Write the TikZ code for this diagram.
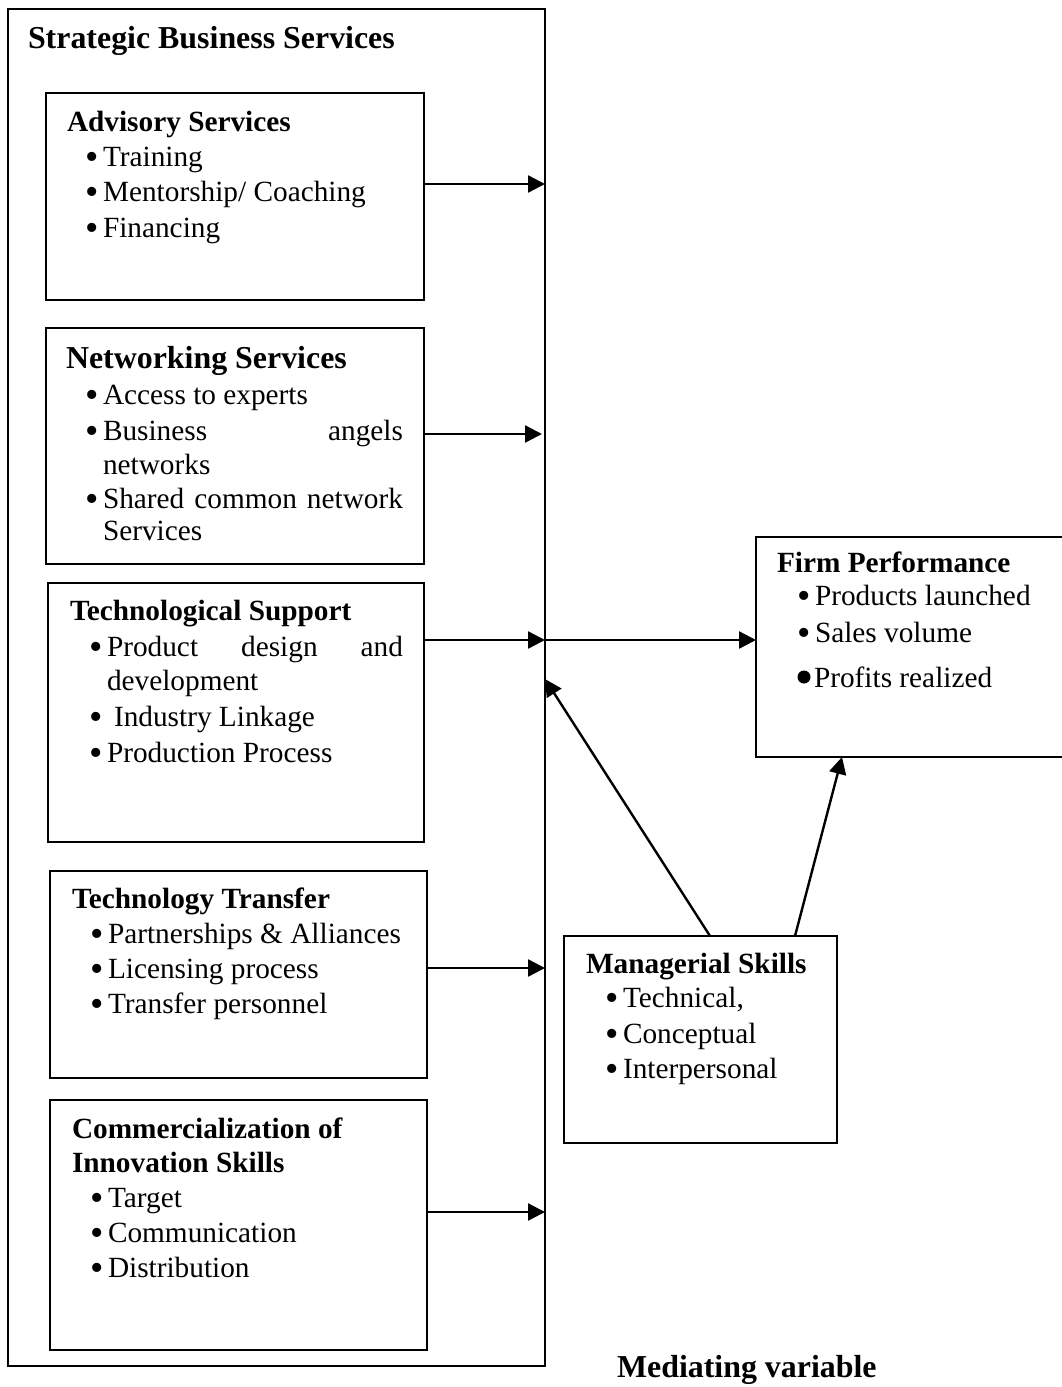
\documentclass[tikz,border=0pt]{standalone}
\usepackage{fontspec}
\setmainfont{Liberation Serif}
\usetikzlibrary{arrows.meta}
\newcommand\bpt{\llap{\smash{\raisebox{-3pt}{\scalebox{1.3}{\textbullet}}}\hspace{4.5pt}}}
\begin{document}
\begin{tikzpicture}[x=1pt,y=-1pt,
  box/.style={draw, line width=2pt, inner sep=0pt, outer sep=0pt, anchor=north west},
  arr/.style={-{Triangle[length=17pt,width=17pt]}, line width=2.4pt},
  txt/.style={anchor=base west, inner sep=0pt, outer sep=0pt, font=\fontsize{29.3}{35}\selectfont},
  hd/.style={txt, font=\fontsize{29.3}{35}\selectfont\bfseries},
  hdl/.style={txt, font=\fontsize{31.9}{38}\selectfont\bfseries}]
\useasboundingbox (0,0) rectangle (1062,1387);
\clip (0,0) rectangle (1062,1387);
% boxes
\node[box, minimum width=537pt, minimum height=1357pt] (outer) at (8,9) {};
\node[box, minimum width=378pt, minimum height=207pt] (adv) at (46,93) {};
\node[box, minimum width=378pt, minimum height=236pt] (net) at (46,328) {};
\node[box, minimum width=376pt, minimum height=259pt] (tech) at (48,583) {};
\node[box, minimum width=377pt, minimum height=207pt] (trans) at (50,871) {};
\node[box, minimum width=377pt, minimum height=250pt] (comm) at (50,1100) {};
\node[box, minimum width=340pt, minimum height=220pt] (firm) at (756,537) {};
\node[box, minimum width=273pt, minimum height=207pt] (mgr) at (564,936) {};
% titles
\node[hdl] (tsbs) at (28,48) {Strategic Business Services};
\node[hdl] (tmed) at (617,1377) {Mediating variable};
% advisory
\node[hd] (tadv) at (67,131) {Advisory Services};
\node[txt] (adv1) at (103,166) {\bpt Training};
\node[txt] (adv2) at (103,201) {\bpt Mentorship/ Coaching};
\node[txt] (adv3) at (103,237) {\bpt Financing};
% networking
\node[hdl] (tnet) at (66,368) {Networking Services};
\node[txt] (net1) at (103,404) {\bpt Access to experts};
\node[txt] (net2) at (103,440) {\bpt\makebox[300pt][s]{Business angels}};
\node[txt] (net3) at (103,474) {networks};
\node[txt] (net4) at (103,508) {\bpt\makebox[300pt][s]{Shared common network}};
\node[txt] (net5) at (103,540) {Services};
% technological support
\node[hd] (ttech) at (70,620) {Technological Support};
\node[txt] (tech1) at (107,656) {\bpt\makebox[296pt][s]{Product design and}};
\node[txt] (tech2) at (107,690) {development};
\node[txt] (tech3) at (107,726) {\bpt\hspace*{7pt}Industry Linkage};
\node[txt] (tech4) at (107,762) {\bpt Production Process};
% technology transfer
\node[hd] (ttrans) at (72,908) {Technology Transfer};
\node[txt] (trans1) at (108,943) {\bpt Partnerships \& Alliances};
\node[txt] (trans2) at (108,978) {\bpt Licensing process};
\node[txt] (trans3) at (108,1013) {\bpt Transfer personnel};
% commercialization
\node[hd] (tcomm1) at (72,1138) {Commercialization of};
\node[hd] (tcomm2) at (72,1172) {Innovation Skills};
\node[txt] (comm1) at (108,1207) {\bpt Target};
\node[txt] (comm2) at (108,1242) {\bpt Communication};
\node[txt] (comm3) at (108,1277) {\bpt Distribution};
% firm performance
\node[hd] (tfirm) at (777,572) {Firm Performance};
\node[txt] (firm1) at (815,605) {\bpt Products launched};
\node[txt] (firm2) at (815,642) {\bpt Sales volume};
\node[txt] (firm3) at (814,687) {Profits realized};
\fill ([shift={(-10,-10)}]firm3.base west) circle (6.5pt);
% managerial skills
\node[hd] (tmgr) at (586,973) {Managerial Skills};
\node[txt] (mgr1) at (623,1007) {\bpt Technical,};
\node[txt] (mgr2) at (623,1043) {\bpt Conceptual};
\node[txt] (mgr3) at (623,1078) {\bpt Interpersonal};
% connectors
\draw[arr] (adv.east |- 0,184) -- (outer.east |- 0,184);
\draw[arr, shorten >=3pt] (net.east |- 0,434) -- (outer.east |- 0,434);
\draw[arr] (tech.east |- 0,640) -- (outer.east |- 0,640);
\draw[arr] (outer.east |- 0,640) -- (firm.west |- 0,640);
\draw[arr] (trans.east |- 0,968) -- (outer.east |- 0,968);
\draw[arr] (comm.east |- 0,1212) -- (outer.east |- 0,1212);
\draw[arr] (mgr.north -| 710,0) -- (outer.east |- 0,679);
\draw[arr] (mgr.north -| 795,0) -- (firm.south -| 842,0);
\end{tikzpicture}
\end{document}
